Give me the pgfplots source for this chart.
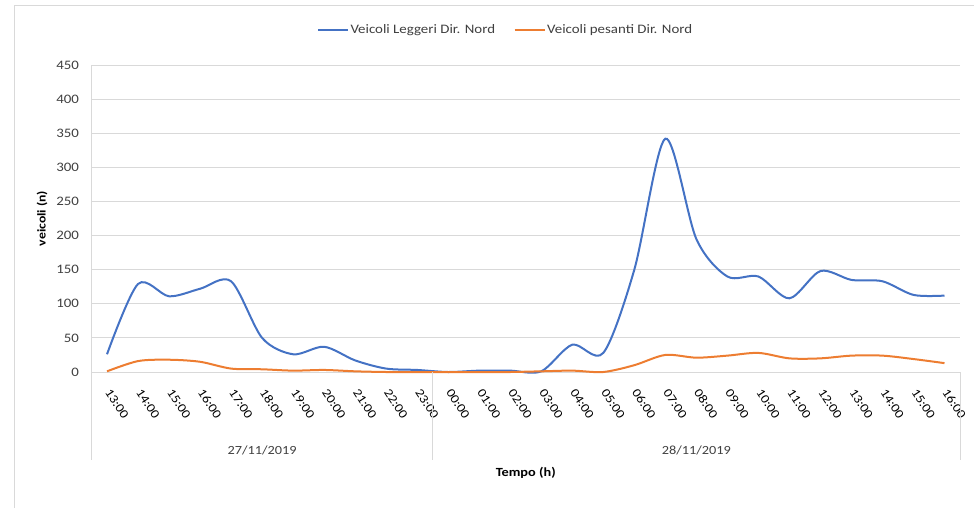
\documentclass[border=0pt]{standalone}
\usepackage{fontspec}
\setmainfont[FakeStretch=1.15]{Carlito}
\usepackage{pgfplots}
\pgfplotsset{compat=1.18}
\definecolor{xblue}{HTML}{4472C4}
\definecolor{xorange}{HTML}{ED7D31}
\definecolor{gridc}{HTML}{D9D9D9}
\definecolor{txt}{HTML}{404040}
\begin{document}
\begin{tikzpicture}
\useasboundingbox (0,0) rectangle (974bp,-508bp);
\draw[gridc, line width=0.8bp] (14bp,-508bp) -- (14bp,-5bp) -- (974bp,-5bp);
\begin{axis}[
  at={(91.5bp,-372bp)}, anchor=south west,
  scale only axis, width=868.5bp, height=307bp,
  xmin=-0.5, xmax=27.5, ymin=0, ymax=450,
  ytick={0,50,...,450},
  xtick={0,...,27},
  xticklabels={13:00,14:00,15:00,16:00,17:00,18:00,19:00,20:00,21:00,22:00,23:00,00:00,01:00,02:00,03:00,04:00,05:00,06:00,07:00,08:00,09:00,10:00,11:00,12:00,13:00,14:00,15:00,16:00},
  xticklabel style={xshift=-1bp, yshift=-15bp, rotate=-57, anchor=west, font=\fontsize{12.5}{14}\selectfont, text=black},
  yticklabel style={font=\fontsize{13}{15}\selectfont, text=txt, xshift=-9bp},
  /pgf/number format/assume math mode=true,
  major tick length=0pt,
  ymajorgrids, major grid style={gridc, line width=0.9bp},
  axis x line*=bottom, axis y line*=left,
  axis line style={gridc, line width=0.9bp},
  ylabel={\bfseries veicoli (n)},
  ylabel style={font=\fontsize{12}{14}\selectfont, at={(axis description cs:-0.057,0.5)}, anchor=center, rotate=0},
  legend style={draw=none, at={(0.476,1.114)}, anchor=center, font=\fontsize{13}{15}\selectfont, text=txt, column sep=1bp, /tikz/every even column/.append style={column sep=18bp}, nodes={inner sep=0.5bp}},
  legend columns=2,
  legend image code/.code={\draw[#1] (0bp,0bp) -- (30bp,0bp);},
  clip=false,
]
\addplot[xblue, line width=2bp, smooth, tension=0.5] coordinates {
(0,26)(1,129)(2,111)(3,122)(4,133)(5,50)(6,26)(7,37)(8,17)(9,5)(10,3)
(11,0)(12,2)(13,2)(14,1)(15,40)(16,28)(17,150)(18,342)(19,195)(20,140)(21,140)(22,108)(23,148)(24,135)(25,133)(26,113)(27,112)};
\addlegendentry{Veicoli Leggeri Dir. Nord}
\addplot[xorange, line width=2bp, smooth, tension=0.5] coordinates {
(0,1)(1,16)(2,18)(3,15)(4,5)(5,4)(6,2)(7,3)(8,1)(9,0)(10,0)
(11,0)(12,0)(13,0)(14,1)(15,2)(16,0)(17,10)(18,25)(19,21)(20,24)(21,28)(22,20)(23,20)(24,24)(25,24)(26,19)(27,13)};
\addlegendentry{Veicoli pesanti Dir. Nord}
\draw[gridc, line width=0.9bp] (axis cs:-0.5,0) -- ([yshift=-88bp]axis cs:-0.5,0);
\draw[gridc, line width=0.9bp] (axis cs:10.5,0) -- ([yshift=-88bp]axis cs:10.5,0);
\draw[gridc, line width=0.9bp] (axis cs:27.5,0) -- ([yshift=-88bp]axis cs:27.5,0);
\node[font=\fontsize{12.5}{14}\selectfont, text=txt] at ([yshift=-78bp]axis cs:5,0) {27/11/2019};
\node[font=\fontsize{12.5}{14}\selectfont, text=txt] at ([yshift=-78bp]axis cs:19,0) {28/11/2019};
\node[font=\fontsize{12.5}{14}\selectfont\bfseries, text=black] at ([yshift=-101bp]axis cs:13.5,0) {Tempo (h)};
\end{axis}
\end{tikzpicture}
\end{document}
